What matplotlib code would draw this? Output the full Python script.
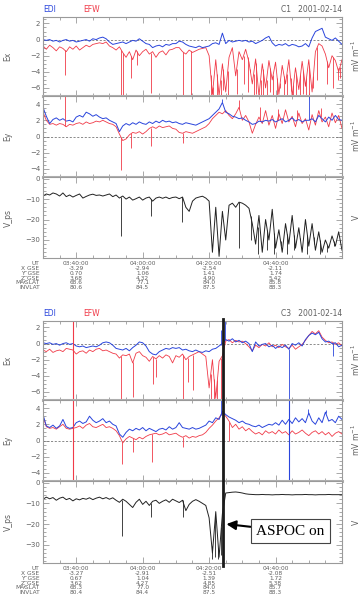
import numpy as np
import matplotlib
matplotlib.use("Agg")
import matplotlib.pyplot as plt
from matplotlib.ticker import MultipleLocator, FixedLocator
from matplotlib.lines import Line2D

# minutes after 03:30 UT, one sample per minute
t = np.arange(91)

# ---------------- C1 ----------------
c1_ex_edi = [0.0, -0.1, 0.0, -0.2, -0.1, -0.3, -0.1, 0.0, -0.2, -0.1,
             -0.3, -0.2, -0.1, 0.0, -0.2, 0.1, 0.0, 0.2, 0.3, 0.1,
             -0.3, -0.6, -0.5, -0.4, -0.3, -0.5, -0.3, -0.1, -0.2, 0.1,
             -0.2, -0.5, -0.6, -1.0, -0.8, -0.7, -0.9, -0.6, -0.7, -0.5,
             -0.5, -0.2, -0.3, -0.6, -0.8, -0.9, -1.0, -0.8, -1.0, -0.9,
             -0.8, -0.5, -0.4, -0.6, 0.8, -0.5, -0.1, -0.3, -0.2, -0.1,
             -0.2, -0.1, -0.3, -0.2, -0.5, -0.3, -0.1, 0.2, 0.4, -0.4,
             -0.8, -0.6, -0.7, -0.5, -0.8, -0.6, -0.7, -0.9, -0.8, -0.5,
             -0.9, 0.2, 1.0, 1.2, 1.4, 0.3, 0.1, -0.1, 0.2, -0.2,
             -0.6]
c1_ex_efw = [-0.8, -1.2, -0.7, -1.0, -1.4, -0.9, -1.1, -1.5, -0.9, -1.2,
             -0.8, -1.3, -1.0, -0.7, -0.9, -0.6, -0.5, -0.4, -0.5, -0.3,
             -0.8, -1.0, -1.3, -0.9, -1.6, -2.2, -1.5, -2.5, -1.3, -2.0,
             -1.5, -1.2, -1.8, -1.5, -2.2, -1.6, -1.4, -1.9, -1.3, -1.2,
             -1.0, -1.0, -1.5, -1.8, -1.3, -1.6, -1.4, -1.2, -1.1, -1.0,
             -2.0, -6.8, -2.5, -7.0, -3.0, -6.5, -2.2, -1.0, -4.5, -1.5,
             -2.5, -1.2, -2.8, -5.5, -2.4, -7.0, -3.0, -6.0, -2.6, -5.0,
             -2.8, -6.8, -3.2, -5.5, -2.5, -7.0, -3.5, -6.2, -2.7, -5.8,
             -2.5, -6.5, -1.5, -0.5, -0.8, -1.8, -3.5, -2.0, -2.6, -4.0,
             -2.5]
c1_ex_efw_spike_t = [6.5, 23.5, 24.1, 26.6, 28.2, 32.6, 42.1, 44.4, 50.5, 51.2,
                     52.4, 53.5, 54.2, 55.6, 58.3, 60.4, 61.6, 62.3, 63.4, 64.1,
                     65.5, 66.2, 67.3, 68.4, 69.3, 70.5, 71.4, 72.6, 73.4, 74.5,
                     75.4, 76.3, 77.5, 78.4, 79.3, 80.2, 81.4, 82.6, 85.5, 87.3,
                     88.7, 89.4]
c1_ex_efw_spike_v = [-4.4, -7.0, -7.0, -4.8, -3.2, -6.6, -7.0, -7.0, -7.0, -7.0,
                     -7.0, -7.0, -6.2, -7.0, -6.8, -5.5, -6.5, -4.0, -7.0, -6.8,
                     -7.0, -7.0, -7.0, -6.5, -7.0, -7.0, -6.0, -7.0, -7.0, -6.4,
                     -7.0, -7.0, -7.0, -6.8, -7.0, -7.0, -6.0, -5.0, -5.5, -6.0,
                     -5.0, -4.8]

c1_ey_edi = [3.6, 2.5, 1.6, 2.1, 2.3, 2.0, 2.2, 1.9, 2.0, 1.8,
             2.4, 2.6, 2.4, 3.0, 2.8, 2.5, 2.7, 2.4, 2.2, 2.3,
             2.0, 1.8, 1.6, 0.6, 1.3, 1.6, 1.4, 1.7, 1.5, 1.8,
             1.6, 1.5, 1.8, 1.6, 1.9, 1.7, 2.0, 1.8, 1.9, 1.7,
             1.8, 1.6, 1.5, 1.7, 1.6, 1.5, 1.4, 1.6, 1.8, 2.0,
             2.2, 2.6, 3.0, 3.4, 4.2, 3.0, 2.8, 2.5, 2.4, 2.2,
             2.3, 2.0, 1.8, 1.5, 1.6, 1.9, 1.8, 2.0, 1.9, 2.1,
             1.8, 2.0, 2.2, 1.8, 2.0, 2.3, 1.9, 2.1, 1.8, 2.0,
             2.0, 2.2, 1.8, 2.6, 2.2, 1.8, 2.4, 2.0, 2.6, 2.1,
             2.0]
c1_ey_efw = [3.0, 2.0, 1.5, 1.6, 1.4, 1.6, 1.5, 1.2, 1.5, 1.4,
             1.6, 1.7, 1.5, 1.8, 1.6, 1.7, 1.9, 1.8, 2.0, 1.8,
             1.6, 1.5, 1.2, 0.3, -0.5, -0.3, 0.2, 0.5, 0.4, 0.6,
             0.3, 0.6, 1.0, 1.2, 1.0, 1.3, 1.1, 1.2, 1.3, 1.0,
             0.9, 0.5, 0.4, 0.6, 0.5, 0.4, 0.6, 0.8, 1.0, 1.2,
             1.6, 2.2, 2.6, 3.0, 2.8, 3.2, 2.6, 2.2, 2.8, 3.6,
             2.0, 2.6, 1.8, 0.4, 1.5, 2.4, 1.6, 3.2, 1.4, 2.6,
             1.0, 2.8, 1.6, 3.3, 1.8, 2.5, 1.2, 2.9, 1.6, 2.2,
             0.8, 2.7, 1.4, 3.2, 1.8, 2.4, 1.2, 2.9, 1.7, 2.6,
             1.0]
c1_ey_efw_spike_t = [6.6, 23.4, 26.6, 32.4, 42.1, 59.1, 65.4, 70.6, 76.5, 83.6]
c1_ey_efw_spike_v = [5.0, -4.1, -1.4, -1.2, -0.8, 4.5, 3.6, 3.4, 3.3, 3.5]
c1_ey_edi_spike_t = [54.0, 80.1]
c1_ey_edi_spike_v = [4.6, 5.0]

c1_vps = [-8.5, -7.5, -8.0, -7.0, -7.5, -8.5, -7.0, -8.8, -8.0, -9.0,
          -8.2, -7.5, -9.5, -8.7, -8.0, -7.6, -8.2, -8.0, -8.5, -8.0,
          -7.5, -8.8, -8.0, -9.5, -8.5, -10.0, -9.0, -10.5, -9.8, -9.0,
          -10.5, -9.5, -9.0, -11.0, -9.5, -9.0, -9.6, -9.0, -9.8, -9.2,
          -9.0, -9.8, -9.0, -14.0, -16.0, -11.0, -9.5, -9.0, -8.6, -9.5,
          -11.0, -36.0, -14.0, -38.0, -16.0, -30.0, -13.0, -12.0, -14.0, -11.5,
          -12.0, -13.0, -14.5, -22.0, -32.0, -18.0, -36.0, -20.0, -30.0, -15.0,
          -34.0, -25.0, -36.0, -22.0, -32.0, -18.0, -34.0, -24.0, -36.0, -20.0,
          -33.0, -22.0, -35.0, -26.0, -36.0, -30.0, -34.0, -28.0, -33.0, -26.0,
          -35.0]
c1_vps_spike_t = [23.4, 32.4, 41.9, 59.0, 62.5, 64.6, 67.5, 69.6, 71.5, 73.5,
                  75.6, 77.4, 79.6, 81.5, 83.4, 85.6, 87.5, 89.5]
c1_vps_spike_v = [-28.0, -18.5, -21.0, -34.0, -30.0, -37.0, -35.0, -37.0, -33.0, -37.0,
                  -35.0, -30.0, -37.0, -32.0, -37.0, -36.0, -33.0, -31.0]

c1_rows = [["-3.29", "-2.94", "-2.54", "-2.11"],
           ["0.70", "1.06", "1.41", "1.74"],
           ["3.68", "4.32", "4.90", "5.42"],
           ["68.6", "77.1", "84.0", "85.8"],
           ["80.6", "84.5", "87.5", "88.3"]]

# ---------------- C3 ----------------
c3_ex_edi = [0.1, 0.0, 0.1, -0.1, 0.0, -0.2, 0.0, 0.1, -0.1, 0.0,
             -0.3, -0.4, -0.3, -0.5, -0.4, -0.3, -0.4, -0.2, 0.1, 0.2,
             0.1, -0.2, -0.6, -0.7, -0.8, -0.6, -0.9, -0.5, -0.2, 0.2,
             0.1, -0.3, -1.0, -1.3, -1.4, -1.0, -0.8, -0.6, -0.7, -0.5,
             -0.6, -0.5, -0.8, -0.7, -0.9, -1.0, -0.8, -1.0, -1.1, -0.9,
             -1.0, -0.7, -0.6, -0.3, 0.0, 0.5, 0.3, 0.6, 0.2, 0.4,
             0.1, 0.3, 0.0, -1.0, 0.2, -0.3, -0.1, 0.0, -0.4, -0.2,
             -0.6, -0.3, -0.5, -0.2, -0.7, 0.0, -0.2, 0.1, -0.3, 0.5,
             1.0, 1.3, 1.1, 1.4, 0.6, 0.2, 0.3, 0.0, 0.1, -0.4,
             -0.2]
c3_ex_efw = [-0.8, -1.0, -0.7, -1.1, -0.9, -0.8, -1.0, -0.6, -0.7, -0.8,
             -1.3, -1.0, -0.9, -1.2, -0.8, -1.0, -0.7, -0.6, -0.9, -0.8,
             -1.0, -1.2, -1.3, -1.8, -1.4, -1.5, -1.3, -2.4, -1.2, -1.0,
             -1.5, -1.7, -2.2, -1.6, -1.9, -1.5, -1.8, -1.4, -1.6, -2.4,
             -1.5, -1.7, -1.3, -2.0, -1.6, -1.4, -1.2, -1.0, -1.3, -1.6,
             -5.5, -2.0, -6.8, -2.2, -1.5, 0.3, 0.5, 0.1, 0.4, 0.2,
             0.3, 0.0, -0.4, -0.9, -0.2, -0.5, -0.1, -0.3, 0.1, -0.4,
             -0.2, -0.5, -0.1, -0.4, -0.6, -0.2, -0.7, -0.4, -0.1, 0.4,
             1.0, 1.5, 1.2, 1.6, 0.8, 0.4, 0.1, 0.2, -0.1, 0.1,
             -0.3]
c3_ex_edi_spike_t = [53.6, 54.8, 74.1, 87.4]
c3_ex_edi_spike_v = [1.7, 2.8, -7.0, -1.5]
c3_ex_efw_spike_t = [23.6, 27.1, 33.1, 34.1, 42.1, 43.6, 45.1, 50.5, 51.5, 52.5, 53.5]
c3_ex_efw_spike_v = [-7.0, -6.6, -5.0, -4.2, -7.0, -4.8, -5.8, -7.0, -7.0, -7.0, -7.0]

c3_ey_edi = [3.2, 1.8, 1.6, 1.9, 1.5, 1.8, 2.6, 1.7, 1.5, 1.6,
             2.2, 2.4, 2.1, 2.3, 3.0, 2.5, 2.2, 2.4, 2.7, 2.2,
             2.4, 2.0, 1.8, 0.8, 0.4, 1.0, 1.4, 1.2, 1.5, 1.3,
             1.6, 1.2, 1.5, 1.3, 1.1, 1.4, 1.5, 1.3, 1.7, 1.4,
             1.6, 2.2, 1.6, 1.5, 1.4, 1.6, 1.4, 1.5, 1.7, 1.9,
             2.4, 2.2, 2.8, 2.6, 3.6, 3.2, 2.9, 2.7, 2.5, 2.2,
             2.4, 2.1, 2.0, 1.8, 1.7, 1.9, 1.6, 1.8, 2.0, 1.9,
             2.2, 1.9, 2.5, 2.0, 2.6, 2.1, 2.8, 2.3, 2.7, 2.2,
             3.4, 2.4, 2.0, 2.8, 2.2, 3.5, 2.4, 2.6, 2.2, 3.0,
             2.6]
c3_ey_efw = [3.0, 1.7, 1.5, 1.6, 1.4, 1.7, 2.0, 1.5, 1.4, 1.5,
             1.6, 1.8, 1.5, 1.9, 2.1, 1.7, 1.6, 1.8, 2.0, 1.6,
             1.7, 1.5, 1.2, 0.6, -0.3, 0.2, 0.5, 0.3, 0.1, 0.4,
             0.2, 0.5, 0.7, 0.8, 0.9, 0.7, 0.8, 1.0, 0.7, 0.8,
             0.9, 0.6, 0.4, 0.6, 0.3, 0.5, 0.4, 0.6, 0.7, 1.0,
             1.5, 1.9, 2.4, 2.8, 3.4, 3.0, 2.4, 1.6, 2.0, 1.4,
             1.7, 1.2, 1.5, 1.1, 0.8, 1.0, 0.7, 1.2, 0.9, 1.1,
             0.8, 1.3, 0.9, 1.1, 0.7, 1.2, 0.8, 1.0, 1.3, 0.9,
             0.6, 1.0, 1.2, 0.8, 1.1, 0.7, 1.0, 0.5, 0.9, 1.1,
             0.8]
c3_ey_edi_spike_t = [53.6, 79.9, 85.1]
c3_ey_edi_spike_v = [5.0, 3.9, 3.8]
c3_ey_efw_spike_t = [23.9, 27.1, 32.8, 42.1, 56.1]
c3_ey_efw_spike_v = [-2.9, -1.4, -2.7, -0.8, 0.0]

c3_vps = [-8.0, -7.0, -7.8, -7.2, -8.5, -7.5, -7.0, -8.2, -7.6, -8.8,
          -7.8, -8.3, -7.6, -8.0, -7.3, -8.2, -7.5, -7.0, -7.8, -7.2,
          -8.0, -7.3, -8.5, -9.5, -8.0, -9.0, -10.5, -12.0, -9.5, -8.0,
          -10.5, -9.0, -11.0, -9.0, -8.5, -10.0, -9.0, -8.3, -9.5, -8.0,
          -8.8, -9.6, -8.5, -13.5, -10.5, -9.0, -8.2, -9.0, -10.0, -11.0,
          -17.0, -34.0, -14.0, -36.0, -15.0, -5.0, -4.8, -4.6, -4.5, -4.7,
          -5.0, -5.4, -5.6, -5.7, -5.8, -5.8, -5.7, -5.8, -5.8, -5.9,
          -5.8, -5.8, -5.7, -5.8, -5.8, -5.9, -5.8, -5.8, -5.8, -5.7,
          -5.8, -5.8, -5.9, -5.8, -5.8, -5.8, -5.7, -5.8, -5.8, -5.8,
          -5.8]
c3_vps_spike_t = [23.7, 32.6, 42.0, 50.8, 51.9, 52.8, 53.7]
c3_vps_spike_v = [-26.0, -16.5, -16.5, -37.0, -36.0, -37.0, -35.0]

c3_rows = [["-3.27", "-2.91", "-2.51", "-2.08"],
           ["0.67", "1.04", "1.39", "1.72"],
           ["3.62", "4.27", "4.85", "5.38"],
           ["68.3", "77.0", "84.0", "85.7"],
           ["80.4", "84.4", "87.5", "88.3"]]

c3_efw_glitch = 8.9     # minutes, full-height EFW line
c3_edi_glitch = 74.1    # minutes, EDI dropout in Ey
aspoc_on = 54.3         # minutes, ASPOC switched on

ut_ticks = [10, 30, 50, 70]
ut_labels = ["03:40:00", "04:00:00", "04:20:00", "04:40:00"]
row_names = ["UT", "X_GSE", "Y_GSE", "Z_GSE", "MAGLAT", "INVLAT"]

BLUE = "#2a45dc"
RED = "#f03a48"
GRAY = "#606060"
FRAME = "#9a9a9a"

W, H = 362, 609
plt.rcParams["font.family"] = ["DejaVu Sans"]
fig = plt.figure(figsize=(W / 100, H / 100), dpi=100)


def add_panel(top, bottom):
    return fig.add_axes([43 / W, 1 - bottom / H, 299 / W, (bottom - top) / H])


def style(ax, ylim, major, minor, thick_bottom):
    ax.set_xlim(0, 90)
    ax.set_ylim(*ylim)
    ax.xaxis.set_major_locator(FixedLocator(ut_ticks))
    ax.xaxis.set_minor_locator(MultipleLocator(5))
    ax.yaxis.set_major_locator(MultipleLocator(major))
    ax.yaxis.set_minor_locator(MultipleLocator(minor))
    ax.tick_params(which="both", direction="in", top=True, right=True,
                   color=FRAME, labelcolor=GRAY, labelsize=5, pad=2,
                   labelbottom=False, width=0.6)
    ax.tick_params(which="major", length=4)
    ax.tick_params(which="minor", length=2)
    for s in ax.spines.values():
        s.set_color(FRAME)
        s.set_linewidth(0.8)
    if thick_bottom:
        ax.spines["bottom"].set_linewidth(2.2)
        ax.spines["bottom"].set_color("#b0b0b0")


def spikes(ax, st, sv, base, color, lw=0.6):
    b = np.interp(st, t, base)
    ax.vlines(st, b, sv, color=color, lw=lw)


def side_labels(top, bottom, left, right):
    yc = 1 - (top + bottom) / 2 / H
    fig.text(8 / W, yc, left, rotation=90, ha="center", va="center",
             fontsize=5.5, color=GRAY)
    fig.text(356 / W, yc, right, rotation=90, ha="center", va="center",
             fontsize=5.5, color=GRAY)


def block(tops, sc, ex_edi, ex_efw, ey_edi, ey_efw, vps, rows,
          ex_sp, ey_sp, v_sp, head_y):
    (a, b), (c, d), (e, f) = tops
    ax1 = add_panel(a, b)
    ax2 = add_panel(c, d)
    ax3 = add_panel(e, f)
    style(ax1, (-7, 2.8), 2, 0.5, True)
    style(ax2, (-5, 5), 2, 0.5, True)
    style(ax3, (-38.8, 0.8), 10, 2, False)
    ax3.set_yticks([0, -10, -20, -30])

    for ax in (ax1, ax2):
        ax.axhline(0, color="#777777", lw=0.6, ls=(0, (2.5, 2)))

    ax1.plot(t, ex_efw, color=RED, lw=0.6)
    ax1.plot(t, ex_edi, color=BLUE, lw=0.7)
    spikes(ax1, ex_sp[0], ex_sp[1], ex_efw, RED)
    spikes(ax1, ex_sp[2], ex_sp[3], ex_edi, BLUE)

    ax2.plot(t, ey_efw, color=RED, lw=0.6)
    ax2.plot(t, ey_edi, color=BLUE, lw=0.7)
    spikes(ax2, ey_sp[0], ey_sp[1], ey_efw, RED)
    spikes(ax2, ey_sp[2], ey_sp[3], ey_edi, BLUE)

    ax3.plot(t, vps, color="#222222", lw=0.7)
    spikes(ax3, v_sp[0], v_sp[1], vps, "#222222")

    side_labels(a, b, "Ex", "mV m$^{-1}$")
    side_labels(c, d, "Ey", "mV m$^{-1}$")
    side_labels(e, f, "V_ps", "V")

    fig.text(43 / W, 1 - head_y / H, "EDI", color=BLUE, fontsize=5.5,
             va="center", ha="left")
    fig.text(83 / W, 1 - head_y / H, "EFW", color=RED, fontsize=5.5,
             va="center", ha="left")
    fig.text(342 / W, 1 - head_y / H, sc + "   2001-02-14", color=GRAY,
             fontsize=5.5, va="center", ha="right")

    # ephemeris table under the V panel
    tr = ax3.get_xaxis_transform()
    hpx = f - e
    for i, name in enumerate(row_names):
        y = -(5.5 + 4.85 * i) / hpx
        ax3.text(-3.5 / 299 * 90, y, name, transform=tr, ha="right",
                 va="center", fontsize=4.2, color=GRAY)
        vals = ut_labels if i == 0 else rows[i - 1]
        for x, s in zip(ut_ticks, vals):
            ax3.text(x, y, s, transform=tr, ha="center", va="center",
                     fontsize=4.2, color=GRAY)
    return ax1, ax2, ax3


block([(17, 96), (96, 177), (177, 258)], "C1",
      c1_ex_edi, c1_ex_efw, c1_ey_edi, c1_ey_efw, c1_vps, c1_rows,
      (c1_ex_efw_spike_t, c1_ex_efw_spike_v, [], []),
      (c1_ey_efw_spike_t, c1_ey_efw_spike_v, c1_ey_edi_spike_t, c1_ey_edi_spike_v),
      (c1_vps_spike_t, c1_vps_spike_v), 9)

b1, b2, b3 = block([(321, 400), (400, 481), (481, 563)], "C3",
                   c3_ex_edi, c3_ex_efw, c3_ey_edi, c3_ey_efw, c3_vps, c3_rows,
                   (c3_ex_efw_spike_t, c3_ex_efw_spike_v, c3_ex_edi_spike_t, c3_ex_edi_spike_v),
                   (c3_ey_efw_spike_t, c3_ey_efw_spike_v, c3_ey_edi_spike_t, c3_ey_edi_spike_v),
                   (c3_vps_spike_t, c3_vps_spike_v), 313)

# instrument glitches on C3
b1.axvline(c3_efw_glitch, color=RED, lw=0.8)
b2.axvline(c3_efw_glitch, color=RED, lw=0.8)
b2.axvline(c3_edi_glitch, color=BLUE, lw=0.8)

# ASPOC switch-on marker spanning the C3 panels
xf = (43 + aspoc_on / 90 * 299) / W
fig.add_artist(Line2D([xf, xf], [1 - 319 / H, 1 - 566 / H], color="#1a1a1a",
                      lw=2.0, transform=fig.transFigure))

b3.annotate("ASPOC on", xy=(aspoc_on + 0.9, -20.0), xytext=(74.5, -23.5),
            fontsize=11, family="Liberation Serif", ha="center", va="center",
            bbox=dict(boxstyle="square,pad=0.35", fc="white", ec="#444444", lw=0.8),
            arrowprops=dict(arrowstyle="-|>,head_length=0.5,head_width=0.25",
                            color="black", lw=1.5, shrinkA=0, shrinkB=0))

fig.savefig("out.png", dpi=100, facecolor="white")
